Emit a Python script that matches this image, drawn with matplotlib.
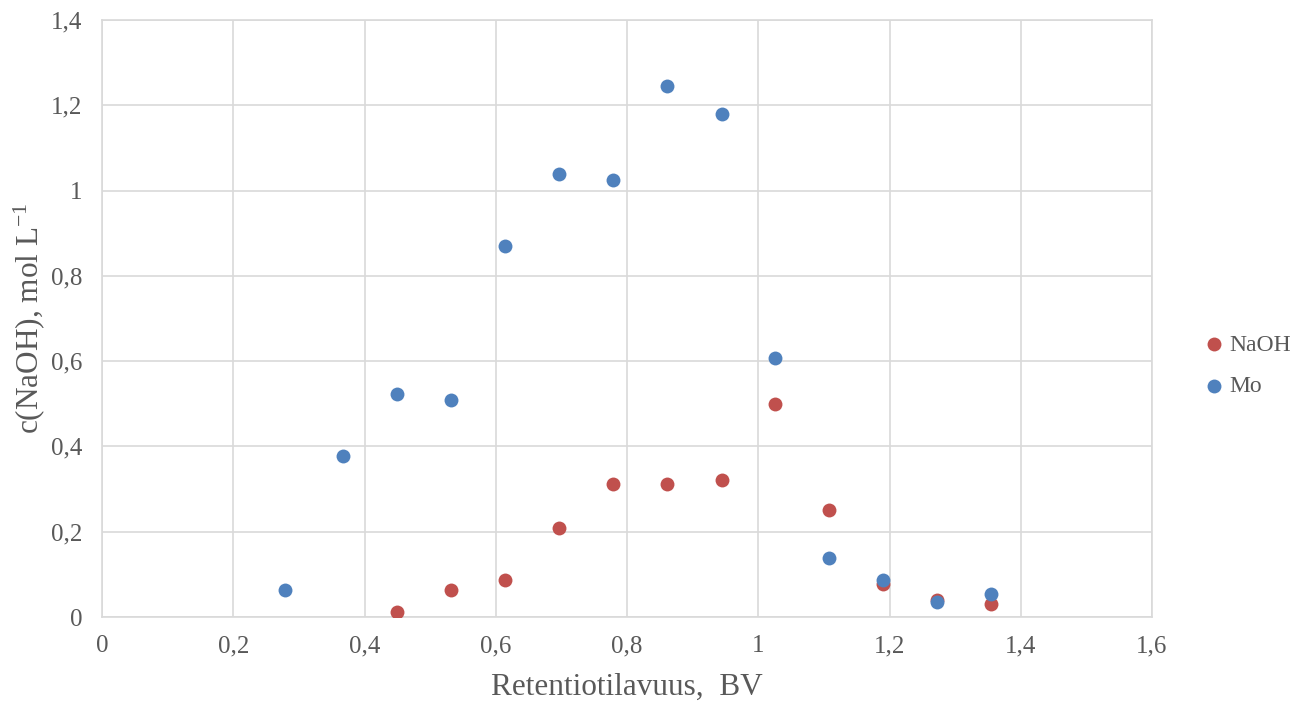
import numpy as np
import matplotlib.pyplot as plt
from matplotlib.ticker import FuncFormatter

plt.rcParams['font.family'] = ['Liberation Serif', 'DejaVu Serif']
plt.rcParams['mathtext.fontset'] = 'custom'
plt.rcParams['mathtext.rm'] = 'Liberation Serif'
plt.rcParams['mathtext.it'] = 'Liberation Serif:italic'

bv = [0.279, 0.367, 0.450, 0.532, 0.614, 0.697, 0.779, 0.861, 0.944, 1.026, 1.108, 1.190, 1.273, 1.355]
mo = [0.063, 0.378, 0.523, 0.509, 0.870, 1.039, 1.025, 1.245, 1.180, 0.607, 0.138, 0.087, 0.035, 0.054]
bv_naoh = bv[2:]
naoh = [0.012, 0.063, 0.087, 0.209, 0.312, 0.312, 0.321, 0.500, 0.251, 0.077, 0.040, 0.030]

def comma(v, pos):
    s = ('%.1f' % v).rstrip('0').rstrip('.')
    return s.replace('.', ',')

fig = plt.figure(figsize=(12.92, 7.03), dpi=100)
ax = fig.add_axes([102/1292, 1 - 617/703, (1152-102)/1292, (617-20)/703])

ax.scatter(bv_naoh, naoh, s=100, color='#C0504D', label='NaOH', zorder=3, linewidths=0)
ax.scatter(bv, mo, s=100, color='#4F81BD', label='Mo', zorder=3, linewidths=0)

ax.set_xlim(0, 1.6)
ax.set_ylim(0, 1.4)
ax.set_xticks(np.arange(0, 1.61, 0.2))
ax.set_yticks(np.arange(0, 1.41, 0.2))
ax.xaxis.set_major_formatter(FuncFormatter(comma))
ax.yaxis.set_major_formatter(FuncFormatter(comma))
ax.grid(True, color='#D9D9D9', linewidth=1.2, zorder=0)
ax.set_axisbelow(True)
for sp in ax.spines.values():
    sp.set_color('#D9D9D9')
    sp.set_linewidth(1.2)
ax.tick_params(length=0, labelsize=18, colors='#595959')
ax.tick_params(axis='y', pad=14)
ax.tick_params(axis='x', pad=13)

ax.set_xlabel('Retentiotilavuus,  BV', fontsize=22.5, color='#595959', labelpad=11)
ax.set_ylabel('c(NaOH), mol L$^{\\mathregular{-1}}$', fontsize=22.5, color='#595959', labelpad=3)

leg = ax.legend(loc='center left', bbox_to_anchor=(1.016, 0.421), frameon=False,
                fontsize=17, handletextpad=-0.35, labelspacing=0.85, markerscale=1.0)
for t in leg.get_texts():
    t.set_color('#595959')

fig.savefig('out.png', dpi=100)
